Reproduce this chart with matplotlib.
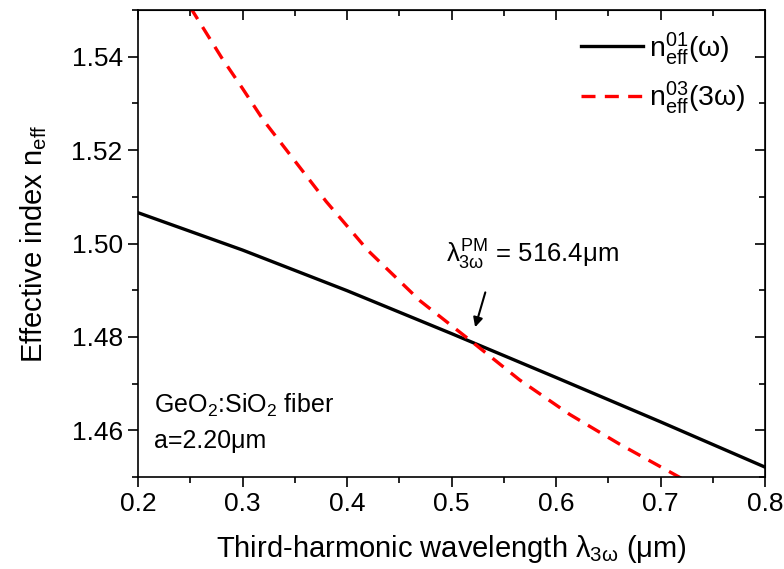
import matplotlib
matplotlib.use("Agg")
import matplotlib.pyplot as plt
from matplotlib.ticker import MultipleLocator, NullFormatter

plt.rcParams['font.family'] = ['Liberation Sans', 'DejaVu Sans']
plt.rcParams['mathtext.fontset'] = 'custom'
plt.rcParams['mathtext.rm'] = 'Liberation Sans'
plt.rcParams['mathtext.it'] = 'Liberation Sans'

# Data
x_w = [0.2, 0.3, 0.4, 0.5, 0.6, 0.7, 0.8]
n_w = [1.5066, 1.4986, 1.4899, 1.4807, 1.4713, 1.4618, 1.4521]

x_3w = [0.25, 0.28, 0.30, 0.32, 0.35, 0.38, 0.42, 0.47, 0.517, 0.565, 0.613, 0.661, 0.72]
n_3w = [1.5506, 1.5398, 1.5332, 1.5264, 1.5177, 1.5090, 1.4985, 1.4877, 1.4794,
        1.4708, 1.4634, 1.4570, 1.4497]

xticks = [0.2, 0.3, 0.4, 0.5, 0.6, 0.7, 0.8]
yticks = [1.46, 1.48, 1.50, 1.52, 1.54]

fig = plt.figure(figsize=(7.84, 5.69), dpi=100)
ax = fig.add_axes([0.176, 0.1617, 0.8, 0.8207])

ax.plot(x_w, n_w, color='black', lw=2.4, label=r'n$_{\mathregular{eff}}^{\mathregular{01}}$($\omega$)')
ax.plot(x_3w, n_3w, color='red', lw=2.4, linestyle=(0, (4.2, 2.8)),
        label=r'n$_{\mathregular{eff}}^{\mathregular{03}}$(3$\omega$)')

ax.set_xlim(0.2, 0.8)
ax.set_ylim(1.45, 1.55)
ax.set_xticks(xticks)
ax.set_yticks(yticks)
ax.set_xticklabels([f"{v:.1f}" for v in xticks])
ax.set_yticklabels([f"{v:.2f}" for v in yticks])
ax.xaxis.set_minor_locator(MultipleLocator(0.05))
ax.yaxis.set_minor_locator(MultipleLocator(0.01))
ax.tick_params(which='major', direction='out', length=7, width=1.2, labelsize=19, pad=4)
ax.tick_params(which='minor', direction='out', length=4, width=1.2)
for s in ax.spines.values():
    s.set_linewidth(1.2)

# inward ticks on top and right
top = ax.secondary_xaxis('top')
top.set_xticks(xticks)
top.xaxis.set_minor_locator(MultipleLocator(0.05))
top.xaxis.set_major_formatter(NullFormatter())
top.tick_params(which='major', direction='in', length=7, width=1.2)
top.tick_params(which='minor', direction='in', length=4, width=1.2)
right = ax.secondary_yaxis('right')
right.set_yticks(yticks)
right.yaxis.set_minor_locator(MultipleLocator(0.01))
right.yaxis.set_major_formatter(NullFormatter())
right.tick_params(which='major', direction='in', length=7, width=1.2)
right.tick_params(which='minor', direction='in', length=4, width=1.2)

ax.set_xlabel(r'Third-harmonic wavelength $\lambda_{\mathregular{3\omega}}$ ($\mathregular{\mu}$m)', fontsize=21, labelpad=12)
ax.set_ylabel(r'Effective index n$_{\mathregular{eff}}$', fontsize=21, labelpad=16)

ax.legend(loc='upper right', frameon=False, fontsize=20.5, handlelength=2.2,
          handletextpad=0.2, labelspacing=0.45, borderaxespad=0.3)

ax.text(0.495, 1.496, r'$\lambda_{\mathregular{3\omega}}^{\mathregular{PM}}$ = 516.4μm', fontsize=18.5, va='baseline')
ax.annotate('', xy=(0.5218, 1.4815), xytext=(0.533, 1.4901),
            arrowprops=dict(arrowstyle='-|>', color='black', lw=1.5, mutation_scale=14))

ax.text(0.2153, 1.4637, r'GeO$_\mathregular{2}$:SiO$_\mathregular{2}$ fiber', fontsize=18, va='baseline')
ax.text(0.2153, 1.4563, 'a=2.20μm', fontsize=18, va='baseline')

fig.savefig('out.png', dpi=100)
